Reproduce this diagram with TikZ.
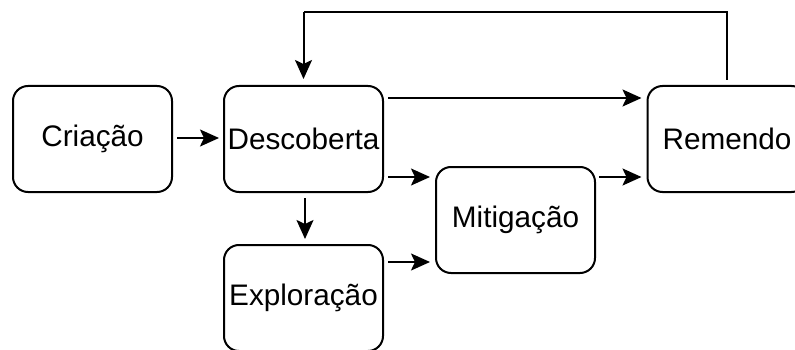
\documentclass[tikz,border=0pt]{standalone}
\usepackage{fontspec}
\setmainfont{Liberation Sans}
\usetikzlibrary{arrows.meta,calc}
\begin{document}
\begin{tikzpicture}[x=1pt,y=-1pt,
  stage/.style={draw=black,line width=2pt,rounded corners=15pt,
    minimum width=159pt,minimum height=106pt,inner sep=0pt,
    font=\fontsize{29.7}{36}\selectfont},
  arr/.style={line width=2pt,-{Stealth[length=19pt,width=17pt,inset=4pt]}},
  link/.style={line width=2pt}]
  \useasboundingbox (0,0) rectangle (795,350);
  \clip (0,0) rectangle (795,350);

  % lifecycle stages
  \node[stage] (C) at (92.5,139) {Criação};
  \node[stage] (D) at (303.5,139) {Descoberta};
  \node[stage] (E) at (303.5,298) {Exploração};
  \node[stage] (M) at (515.5,220) {Mitigação};
  \node[stage] (R) at (727,139) {Remendo};

  % forward transitions
  \draw[arr] ($(C.east)+(4,-1)$) -- ($(D.west)+(-4,-1)$);
  \draw[arr] ($(D.east)+(4,-41)$) -- ($(R.west)+(-5,-41)$);
  \draw[arr] ($(D.east)+(4,38)$) -- ($(M.west)+(-5,-43)$);
  \draw[arr] ($(M.east)+(3,-43)$) -- ($(R.west)+(-5,38)$);
  \draw[arr] ($(E.east)+(4,-36)$) -- ($(M.west)+(-5,42)$);
  \draw[arr] ($(D.south)+(1.5,5)$) -- ($(E.north)+(1.5,-5)$);

  % feedback from Remendo back to Descoberta
  \coordinate (top) at (0,12);
  \draw[link] ($(R.north)+(0,-5)$) -- (R.north |- top)
    -- (D.north |- top);
  \draw[arr] (D.north |- top) -- ($(D.north)+(0,-6)$);
\end{tikzpicture}
\end{document}
